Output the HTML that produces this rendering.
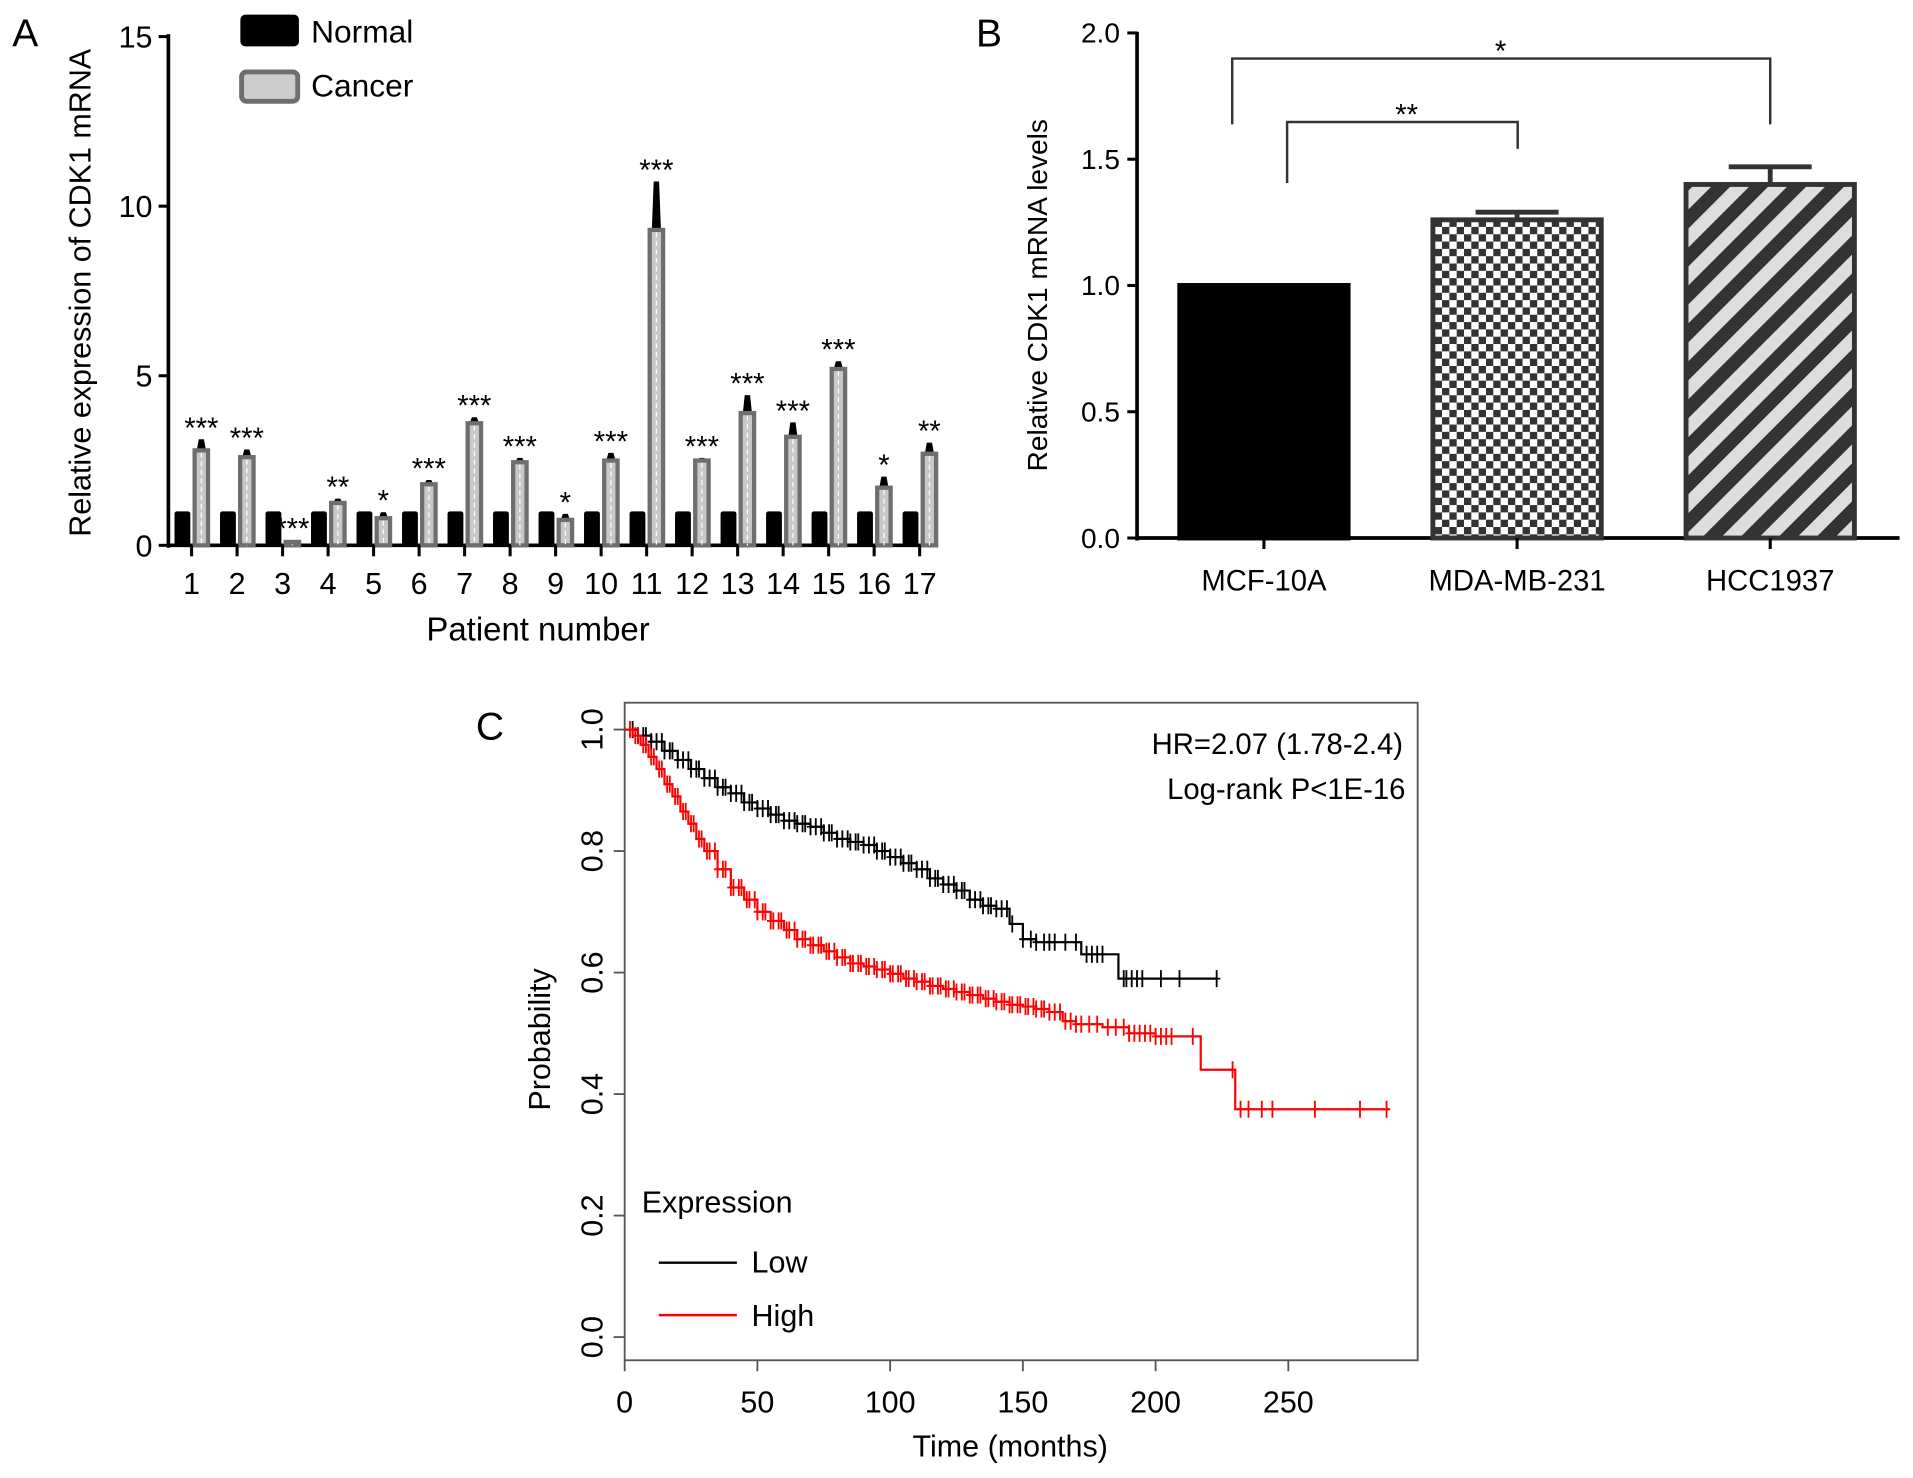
<!DOCTYPE html>
<html><head><meta charset="utf-8"><style>
html,body{margin:0;padding:0;background:#fff;}
svg{display:block;font-family:"Liberation Sans",Arial,sans-serif;}
</style></head><body>
<svg id="fig" width="1913" height="1478" viewBox="0 0 1568 1211.5">
<defs>
<pattern id="checker" width="12" height="12" patternUnits="userSpaceOnUse"><rect width="12" height="12" fill="#fff"/><rect width="6" height="6" fill="#333"/><rect x="6" y="6" width="6" height="6" fill="#333"/></pattern>
<pattern id="diag" width="22" height="22" patternUnits="userSpaceOnUse" patternTransform="rotate(45)"><rect width="22" height="22" fill="#ddd"/><rect width="11" height="22" fill="#333"/></pattern>
</defs>
<g id="pa"></g>
<g id="pb"></g>
<g id="pc"></g>
</svg>
<script>
// Panel A data
const patients=["1","2","3","4","5","6","7","8","9","10","11","12","13","14","15","16","17"];
const normalVals=[1,1,1,1,1,1,1,1,1,1,1,1,1,1,1,1,1];
const cancerVals=[2.8,2.6,0.1,1.25,0.8,1.8,3.6,2.45,0.75,2.5,9.3,2.5,3.9,3.2,5.2,1.7,2.7];
const cancerErr=[0.3,0.2,0.03,0.1,0.15,0.1,0.15,0.1,0.15,0.2,1.4,0.05,0.5,0.4,0.2,0.3,0.3];
const sigA=["***","***","***","**","*","***","***","***","*","***","***","***","***","***","***","*","**"];
const ticksA=[0,5,10,15];
// Panel B data
const cellLines=["MCF-10A","MDA-MB-231","HCC1937"];
const cellVals=[1.0,1.26,1.4];
const cellErr=[0,0.03,0.07];
const ticksB=[0.0,0.5,1.0,1.5,2.0];
// Panel C data
const lowT=[0,5,10,15,20,25,30,35,40,45,50,55,60,65,70,75,80,85,90,95,100,105,110,115,120,125,130,135,140,145,150,155,170,172,185,186,223];
const lowP=[1,0.99,0.98,0.965,0.95,0.935,0.92,0.905,0.895,0.88,0.87,0.86,0.85,0.845,0.84,0.83,0.82,0.815,0.81,0.8,0.79,0.78,0.77,0.755,0.745,0.735,0.72,0.71,0.705,0.68,0.655,0.65,0.65,0.63,0.63,0.59,0.59];
const highT=[0,3,6,9,12,15,18,21,24,27,30,35,40,45,50,55,60,65,70,75,80,85,90,95,100,105,110,115,120,125,130,135,140,145,150,155,160,165,170,180,190,200,216,217,229,230,288];
const highP=[1,0.99,0.975,0.955,0.935,0.91,0.89,0.865,0.845,0.82,0.8,0.77,0.74,0.72,0.7,0.685,0.67,0.655,0.645,0.635,0.625,0.615,0.61,0.605,0.598,0.59,0.585,0.578,0.573,0.568,0.563,0.557,0.552,0.547,0.544,0.54,0.535,0.52,0.515,0.51,0.5,0.495,0.495,0.44,0.44,0.375,0.375];
const lowCens=[3,5,7,8,10,12,14,15,17,18,20,22,24,25,27,28,30,32,34,35,37,38,40,42,44,45,47,48,50,52,54,55,57,58,60,62,64,65,67,68,70,72,74,75,77,78,80,82,84,85,87,88,90,92,94,95,97,98,100,102,104,105,107,108,110,112,114,115,117,118,120,122,124,125,127,128,130,132,134,135,137,138,140,142,144,146,150,153,155,158,160,162,166,170,174,176,178,180,188,189,191,193,195,202,209,223];
const highCens=[2,4,5,7,8,10,11,13,14,16,17,19,20,22,23,25,26,28,29,31,32,34,35,37,38,40,41,43,44,46,47,49,50,52,53,55,56,58,59,61,62,64,65,67,68,70,71,73,74,76,77,79,80,82,83,85,86,88,89,91,92,94,95,97,98,100,101,103,104,106,107,109,110,112,113,115,116,118,119,121,122,124,125,127,128,130,131,133,134,136,137,139,140,142,143,145,146,148,149,151,152,154,155,157,158,160,162,164,166,168,170,172,175,178,182,185,188,190,192,194,196,198,200,202,204,206,214,229,232,235,240,244,260,277,287];
const ticksCx=[0,50,100,150,200,250];
const ticksCy=[0.0,0.2,0.4,0.6,0.8,1.0];

const NS="http://www.w3.org/2000/svg";
function mk(parent,tag,attrs,text){const e=document.createElementNS(NS,tag);for(const k in attrs)e.setAttribute(k,attrs[k]);if(text!==undefined)e.textContent=text;parent.appendChild(e);return e;}

// ---------- Panel A ----------
const pa=document.getElementById('pa');
const yA=v=>447-v*27.8;
const xA=i=>157+i*37.3;
let t=mk(pa,'text',{x:10,y:38,'font-size':32},'A');

let l=mk(pa,'line',{x1:138,y1:28,x2:138,y2:449,stroke:'#000','stroke-width':3});

l=mk(pa,'line',{x1:137,y1:447,x2:765,y2:447,stroke:'#000','stroke-width':3});

ticksA.forEach(v=>{
 const tk=mk(pa,'line',{x1:130,y1:yA(v),x2:138,y2:yA(v),stroke:'#000','stroke-width':2.5});
 
 const tl=mk(pa,'text',{x:125,y:yA(v)+9,'font-size':25,'text-anchor':'end'},String(v));
 
});
patients.forEach((p,i)=>{
 const cx=xA(i);
 const nb=mk(pa,'rect',{x:cx-14,y:yA(normalVals[i]),width:13,height:yA(0)-yA(normalVals[i]),fill:'#000',rx:2});
 
 const ey=yA(cancerVals[i]+cancerErr[i]);
 const eb=mk(pa,'path',{d:`M${cx+8} ${yA(cancerVals[i])} L${cx+5} ${yA(cancerVals[i])} L${cx+6.5} ${ey} L${cx+9.5} ${ey} L${cx+11} ${yA(cancerVals[i])} Z`,fill:'#000',stroke:'#000','stroke-width':1.5});
 
 const cb=mk(pa,'rect',{x:cx+2.5,y:yA(cancerVals[i]),width:11,height:yA(0)-yA(cancerVals[i]),fill:'#c8c8c8',stroke:'#6e6e6e','stroke-width':3.5});
 
 const dl=mk(pa,'line',{x1:cx+8,y1:yA(cancerVals[i])+2,x2:cx+8,y2:yA(0),stroke:'#fff','stroke-width':1,'stroke-dasharray':'4 3'});
 
 const s=mk(pa,'text',{x:cx+8,y:ey-2,'font-size':24,'text-anchor':'middle'},sigA[i]);
 
 const tk=mk(pa,'line',{x1:cx,y1:447,x2:cx,y2:456,stroke:'#000','stroke-width':2.5});
 
 const tl=mk(pa,'text',{x:cx,y:487,'font-size':25,'text-anchor':'middle'},p);
 
});
t=mk(pa,'text',{x:441,y:525,'font-size':27,'text-anchor':'middle'},'Patient number');

t=mk(pa,'text',{x:0,y:0,'font-size':25,'text-anchor':'middle',transform:'translate(74,240) rotate(-90)'},'Relative expression of CDK1 mRNA');

let r=mk(pa,'rect',{x:197,y:12,width:48,height:26,rx:4,fill:'#000'});

t=mk(pa,'text',{x:255,y:35,'font-size':26},'Normal');

r=mk(pa,'rect',{x:198,y:59,width:46,height:24,rx:4,fill:'#ccc',stroke:'#6e6e6e','stroke-width':4});

t=mk(pa,'text',{x:255,y:79,'font-size':26},'Cancer');


// ---------- Panel B ----------
const pb=document.getElementById('pb');
const yB=v=>441-v*207;
const xB=i=>1036+i*207.5;
const fills=['#000','url(#checker)','url(#diag)'];
t=mk(pb,'text',{x:800,y:38,'font-size':32},'B');

l=mk(pb,'line',{x1:932,y1:26,x2:932,y2:443,stroke:'#000','stroke-width':3});

l=mk(pb,'line',{x1:931,y1:441,x2:1557,y2:441,stroke:'#000','stroke-width':3});

ticksB.forEach(v=>{
 const tk=mk(pb,'line',{x1:924,y1:yB(v),x2:932,y2:yB(v),stroke:'#000','stroke-width':2.5});
 
 const tl=mk(pb,'text',{x:918,y:yB(v)+8,'font-size':23,'text-anchor':'end'},v.toFixed(1));
 
});
cellLines.forEach((c,i)=>{
 const cx=xB(i);
 if(cellErr[i]>0){
  const e=mk(pb,'path',{d:`M${cx} ${yB(cellVals[i])} V${yB(cellVals[i]+cellErr[i])} M${cx-34} ${yB(cellVals[i]+cellErr[i])} H${cx+34}`,stroke:'#333','stroke-width':4,fill:'none'});
  
 }
 const b=mk(pb,'rect',{x:cx-69,y:yB(cellVals[i]),width:138,height:yB(0)-yB(cellVals[i]),fill:fills[i],stroke:i?'#333':'#000','stroke-width':4});
 
 const tk=mk(pb,'line',{x1:cx,y1:441,x2:cx,y2:450,stroke:'#000','stroke-width':2.5});
 
 const tl=mk(pb,'text',{x:cx,y:484,'font-size':24,'text-anchor':'middle'},c);
 
});
t=mk(pb,'text',{x:0,y:0,'font-size':23,'text-anchor':'middle',transform:'translate(858,242) rotate(-90)'},'Relative CDK1 mRNA levels');

let br=mk(pb,'path',{d:'M1010 102 V48 H1451 V102',stroke:'#333','stroke-width':2,fill:'none'});

t=mk(pb,'text',{x:1230,y:50,'font-size':24,'text-anchor':'middle'},'*');

br=mk(pb,'path',{d:'M1055 150 V100 H1244 V122',stroke:'#333','stroke-width':2,fill:'none'});

t=mk(pb,'text',{x:1153,y:102,'font-size':24,'text-anchor':'middle'},'**');


// ---------- Panel C ----------
const pc=document.getElementById('pc');
const xC=v=>512+v*2.176;
const yC=v=>1096-v*498;
t=mk(pc,'text',{x:390,y:606,'font-size':32},'C');

r=mk(pc,'rect',{x:512,y:576,width:650,height:539,fill:'none',stroke:'#555','stroke-width':1.5});

ticksCx.forEach(v=>{
 const tk=mk(pc,'line',{x1:xC(v),y1:1115,x2:xC(v),y2:1124,stroke:'#555','stroke-width':1.5});
 
 const tl=mk(pc,'text',{x:xC(v),y:1158,'font-size':25,'text-anchor':'middle'},String(v));
 
});
ticksCy.forEach(v=>{
 const tk=mk(pc,'line',{x1:503,y1:yC(v),x2:512,y2:yC(v),stroke:'#555','stroke-width':1.5});
 
 const tl=mk(pc,'text',{x:0,y:0,'font-size':25,'text-anchor':'middle',transform:`translate(494,${yC(v)}) rotate(-90)`},v.toFixed(1));
 
});
function stepPath(T,P){let d=`M${xC(T[0])} ${yC(P[0])}`;for(let i=1;i<T.length;i++){d+=` H${xC(T[i])} V${yC(P[i])}`;}return d;}
function probAt(T,P,tt){let p=P[0];for(let i=0;i<T.length;i++){if(T[i]<=tt)p=P[i];}return p;}
function drawKM(T,P,C,col,name){
 const g=mk(pc,'g',{});
 
 const pth=mk(g,'path',{d:stepPath(T,P),stroke:col,'stroke-width':1.8,fill:'none'});
 
 C.forEach(c=>{
  const x=xC(c),y=yC(probAt(T,P,c));
  const m=mk(g,'path',{d:`M${x} ${y-7} V${y+7} M${x-3} ${y} H${x+3}`,stroke:col,'stroke-width':1.5});
  
 });
}
drawKM(lowT,lowP,lowCens,'#000','km-low');
drawKM(highT,highP,highCens,'#f00','km-high');
t=mk(pc,'text',{x:1150,y:618,'font-size':24,'text-anchor':'end'},'HR=2.07 (1.78-2.4)');

t=mk(pc,'text',{x:1152,y:655,'font-size':24,'text-anchor':'end'},'Log-rank P<1E-16');

t=mk(pc,'text',{x:526,y:994,'font-size':25},'Expression');

l=mk(pc,'line',{x1:540,y1:1035,x2:604,y2:1035,stroke:'#000','stroke-width':2});

t=mk(pc,'text',{x:616,y:1043,'font-size':25},'Low');

l=mk(pc,'line',{x1:540,y1:1078,x2:604,y2:1078,stroke:'#f00','stroke-width':2});

t=mk(pc,'text',{x:616,y:1087,'font-size':25},'High');

t=mk(pc,'text',{x:828,y:1194,'font-size':25,'text-anchor':'middle'},'Time (months)');

t=mk(pc,'text',{x:0,y:0,'font-size':25,'text-anchor':'middle',transform:'translate(451,852) rotate(-90)'},'Probability');

</script>
</body></html>
